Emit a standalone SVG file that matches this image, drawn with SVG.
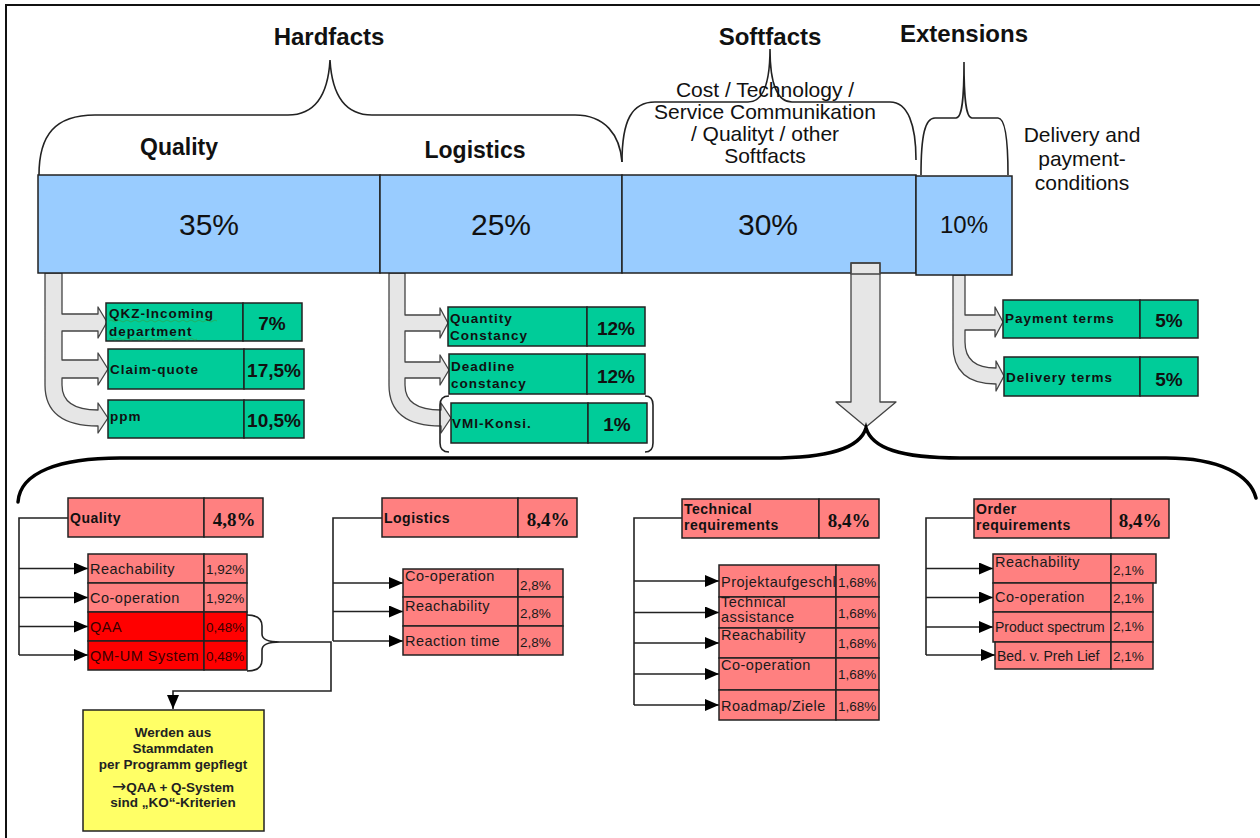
<svg xmlns="http://www.w3.org/2000/svg" width="1260" height="838" viewBox="0 0 1260 838">
  <style>
    .blue{fill:#99CCFF;stroke:#222;stroke-width:1.5}
    .grn{fill:#00CC99;stroke:#222;stroke-width:1.5}
    .pink{fill:#FF8080;stroke:#222;stroke-width:1.5}
    .red{fill:#FF0000;stroke:#222;stroke-width:1.5}
    .yel{fill:#FFFF66;stroke:#222;stroke-width:1.5}
    .hollow{fill:#E6E6E6;stroke:#444;stroke-width:1.3;stroke-linejoin:round}
    .brace{fill:none;stroke:#222;stroke-width:1.6}
    .bigbrace{fill:none;stroke:#000;stroke-width:3.5;stroke-linecap:round}
    .conn{fill:none;stroke:#222;stroke-width:1.6}
    .arr{fill:none;stroke:#222;stroke-width:1.6;marker-end:url(#tri)}
    text{font-family:"Liberation Sans",Arial,sans-serif;fill:#111}
    .h1{font-size:24px;font-weight:bold;text-anchor:middle}
    .h2{font-size:23px;font-weight:bold;text-anchor:middle}
    .note{font-size:21px;text-anchor:middle}
    .big{font-size:30px;text-anchor:middle}
    .mid{font-size:24px;text-anchor:middle}
    .gl{font-size:13.5px;font-weight:bold;letter-spacing:1px}
    .gp{font-size:19px;font-weight:bold;text-anchor:middle}
    .hl{font-size:14px;font-weight:bold;letter-spacing:.5px}
    .hp{font-family:"Liberation Serif","Times New Roman",serif;font-size:19px;font-weight:bold;text-anchor:middle}
    .sl{font-size:14.5px;letter-spacing:.5px;fill:#1a1a1a}
    .tight{font-size:14px;letter-spacing:0}
    .sp{font-size:13.5px;fill:#1a1a1a}
    .dk{fill:#3a0000}
    .yt{font-size:13.5px;font-weight:bold;text-anchor:middle;fill:#222}
  </style>
  <defs>
    <marker id="tri" viewBox="0 0 14 12" refX="14" refY="6" markerWidth="14" markerHeight="12" markerUnits="userSpaceOnUse" orient="auto">
      <path d="M0,0 L14,6 L0,12 Z" fill="#000"/>
    </marker>
  </defs>

  <rect width="1260" height="838" fill="#fff"/>
  <!-- outer frame -->
  <path d="M6,838 L6,5 L1260,5" fill="none" stroke="#111" stroke-width="2"/>

  <!-- category headings and braces -->
  <g id="braces">
    <text class="h1" x="329" y="45">Hardfacts</text>
    <path class="brace" d="M39,175 C39,135 55,115 95,115 L288,115 C315,115 328,95 330,60 C332,95 345,115 372,115 L575,115 C605,115 620,135 622,162"/>
    <text class="h1" x="770" y="45">Softfacts</text>
    <path class="brace" d="M622,162 C622,120 632,102 655,102 L748,102 C762,102 770,85 770,49 C770,85 778,102 792,102 L890,102 C908,102 916,125 916,160"/>
    <text class="h1" x="964" y="42">Extensions</text>
    <path class="brace" d="M921,175 C921,135 925,118 935,118 L956,118 C962,118 964,100 964,62 C964,100 966,118 972,118 L998,118 C1004,118 1008,135 1008,175"/>
  </g>

  <g id="sub-headings">
    <text class="h2" x="179" y="155">Quality</text>
    <text class="h2" x="475" y="158">Logistics</text>
    <text class="note" x="765" y="97">Cost / Technology /</text>
    <text class="note" x="765" y="119">Service Communikation</text>
    <text class="note" x="765" y="141">/ Qualityt / other</text>
    <text class="note" x="765" y="163">Softfacts</text>
    <text class="note" x="1082" y="142">Delivery and</text>
    <text class="note" x="1082" y="166">payment-</text>
    <text class="note" x="1082" y="190">conditions</text>
  </g>

  <!-- connectors: hollow branch arrows, main split arrow, lower tree lines -->
  <g id="connectors">
    <path class="hollow" d="M45,273 L62,273 L62,314 L98,314 L98,307 L107,322 L98,338 L98,331 L62,331 L62,360 L98,360 L98,353 L108,369 L98,385 L98,378 L62,378 L62,385 Q62,410 98,410 L98,403 L108,418 L98,433 L98,426 Q45,426 45,385 Z"/>
    <path class="hollow" d="M389,273 L405,273 L405,315 L440,315 L440,308 L448,323 L440,338 L440,331 L405,331 L405,362 L440,362 L440,355 L449,370 L440,385 L440,378 L405,378 L405,385 Q405,410 441,410 L441,403 L451,418 L441,433 L441,426 Q389,426 389,385 Z"/>
    <path class="hollow" d="M953,275 L965,275 L965,315 L995,315 L995,307 L1003,322 L995,337 L995,330 L965,330 L965,342 Q965,368 996,368 L996,361 L1004,376 L996,391 L996,384 Q953,384 953,345 Z"/>
    <path class="hollow" d="M851,263 L880,263 L880,402 L896,402 L866,427 L836,402 L851,402 Z"/>
    <path class="bigbrace" d="M18,502 C20,472 60,458 120,458 L770,458 C830,458 860,448 866,428 C872,448 900,458 960,458 L1166,458 C1220,458 1250,475 1256,498"/>

    <!-- quality tree -->
    <path class="conn" d="M68,518 L19,518 L19,655"/>
    <line class="arr" x1="19" y1="568.5" x2="88" y2="568.5"/>
    <line class="arr" x1="19" y1="597.5" x2="88" y2="597.5"/>
    <line class="arr" x1="19" y1="626.5" x2="88" y2="626.5"/>
    <line class="arr" x1="19" y1="655" x2="88" y2="655"/>
    <path class="brace" d="M247,615 Q262,615 262,626 L262,634 Q262,642 280,642 Q262,642 262,650 L262,660 Q262,671 247,671"/>
    <path class="arr" d="M280,642 L331,642 L331,691 L173,691 L173,709"/>

    <!-- logistics tree -->
    <path class="conn" d="M382,518 L333,518 L333,641"/>
    <line class="arr" x1="333" y1="583" x2="403" y2="583"/>
    <line class="arr" x1="333" y1="611.5" x2="403" y2="611.5"/>
    <line class="arr" x1="333" y1="641" x2="403" y2="641"/>

    <!-- technical tree -->
    <path class="conn" d="M682,518 L634,518 L634,705"/>
    <line class="arr" x1="634" y1="581" x2="719" y2="581"/>
    <line class="arr" x1="634" y1="612.5" x2="719" y2="612.5"/>
    <line class="arr" x1="634" y1="643" x2="719" y2="643"/>
    <line class="arr" x1="634" y1="674" x2="719" y2="674"/>
    <line class="arr" x1="634" y1="705" x2="719" y2="705"/>

    <!-- order tree -->
    <path class="conn" d="M974,518 L926,518 L926,655"/>
    <line class="arr" x1="926" y1="568.5" x2="993" y2="568.5"/>
    <line class="arr" x1="926" y1="597.5" x2="993" y2="597.5"/>
    <line class="arr" x1="926" y1="627" x2="993" y2="627"/>
    <line class="arr" x1="926" y1="655" x2="995" y2="655"/>
  </g>

  <!-- weighting bar -->
  <g id="bar-quality"><rect class="blue" x="38" y="175" width="342" height="98"/><text class="big" x="209" y="235">35%</text></g>
  <g id="bar-logistics"><rect class="blue" x="380" y="175" width="242" height="98"/><text class="big" x="501" y="235">25%</text></g>
  <g id="bar-softfacts"><rect class="blue" x="622" y="175" width="294" height="98"/><text class="big" x="768" y="235">30%</text></g>
  <g id="bar-extensions"><rect class="blue" x="916" y="176" width="96" height="99"/><text class="mid" x="964" y="233">10%</text></g>
  <!-- split arrow shaft overlaps the bar -->
  <path class="hollow" d="M851,263 L880,263 L880,274 L851,274 Z" stroke="none"/>
  <path d="M851,273 L851,263 L880,263 L880,273" fill="none" stroke="#444" stroke-width="1.3"/>

  <!-- hardfacts criteria -->
  <g id="qkz">
    <rect class="grn" x="106" y="303" width="137" height="38"/>
    <text class="gl" x="109" y="318">QKZ-Incoming</text>
    <text class="gl" x="109" y="336">department</text>
    <path d="M109,321 q2,-2 4,0 t4,0 t4,0 t4,0 t4,0 t4,0 t4,0 t4,0 t4,0 t4,0 t4,0 t4,0 t4,0 t4,0 t4,0 t4,0 t4,0 t4,0 t4,0 t4,0 t4,0 t4,0 t4,0 t4,0 t4,0 t4,0 t4,0 M109,339 q2,-2 4,0 t4,0 t4,0 t4,0 t4,0 t4,0 t4,0 t4,0 t4,0 t4,0 t4,0 t4,0 t4,0 t4,0 t4,0 t4,0 t4,0 t4,0 t4,0 t4,0 t4,0 t4,0" fill="none" stroke="#3a9a3a" stroke-width=".8" opacity=".7"/>
    <rect class="grn" x="243" y="303" width="59" height="38"/>
    <text class="gp" x="272" y="330">7%</text>
  </g>
  <g id="claim-quote">
    <rect class="grn" x="108" y="349" width="136" height="40"/>
    <text class="gl" x="110" y="374">Claim-quote</text>
    <rect class="grn" x="244" y="349" width="60" height="40"/>
    <text class="gp" x="274" y="377">17,5%</text>
  </g>
  <g id="ppm">
    <rect class="grn" x="108" y="400" width="136" height="38"/>
    <text class="gl" x="110" y="421">ppm</text>
    <rect class="grn" x="244" y="400" width="60" height="38"/>
    <text class="gp" x="274" y="427">10,5%</text>
  </g>
  <g id="quantity-constancy">
    <rect class="grn" x="448" y="307" width="139" height="39"/>
    <text class="gl" x="450" y="323">Quantity</text>
    <text class="gl" x="450" y="340">Constancy</text>
    <rect class="grn" x="587" y="307" width="58" height="39"/>
    <text class="gp" x="616" y="335">12%</text>
  </g>
  <g id="deadline-constancy">
    <rect class="grn" x="449" y="354" width="138" height="40"/>
    <text class="gl" x="451" y="371">Deadline</text>
    <text class="gl" x="451" y="388">constancy</text>
    <rect class="grn" x="587" y="354" width="58" height="40"/>
    <text class="gp" x="616" y="383">12%</text>
  </g>
  <g id="vmi-konsi">
    <path class="brace" stroke="#555" d="M449,396 Q440,396 440,405 L440,443 Q440,452 449,452 M645,396 Q653,396 653,405 L653,443 Q653,452 645,452"/>
    <rect class="grn" x="451" y="403" width="137" height="40"/>
    <text class="gl" x="452" y="428">VMI-Konsi.</text>
    <rect class="grn" x="588" y="403" width="59" height="40"/>
    <text class="gp" x="617" y="431">1%</text>
  </g>

  <!-- extension criteria -->
  <g id="payment-terms">
    <rect class="grn" x="1003" y="300" width="137" height="38"/>
    <text class="gl" x="1005" y="323">Payment terms</text>
    <rect class="grn" x="1140" y="300" width="58" height="38"/>
    <text class="gp" x="1169" y="327">5%</text>
  </g>
  <g id="delivery-terms">
    <rect class="grn" x="1004" y="357" width="136" height="39"/>
    <text class="gl" x="1006" y="382">Delivery terms</text>
    <rect class="grn" x="1140" y="357" width="58" height="39"/>
    <text class="gp" x="1169" y="386">5%</text>
  </g>

  <!-- softfacts: quality -->
  <g id="sf-quality">
    <rect class="pink" x="68" y="498" width="136" height="39"/>
    <text class="hl" x="70" y="523">Quality</text>
    <rect class="pink" x="204" y="498" width="59" height="39"/>
    <text class="hp" x="234" y="526">4,8%</text>
  </g>
  <g id="sf-quality-items">
    <rect class="pink" x="88" y="554" width="116" height="29"/>
    <text class="sl" x="90" y="574">Reachability</text>
    <rect class="pink" x="204" y="554" width="43" height="29"/>
    <text class="sp" x="206" y="574">1,92%</text>
    <rect class="pink" x="88" y="583" width="116" height="29"/>
    <text class="sl" x="90" y="603">Co-operation</text>
    <rect class="pink" x="204" y="583" width="43" height="29"/>
    <text class="sp" x="206" y="603">1,92%</text>
    <rect class="red" x="88" y="612" width="116" height="29"/>
    <text class="sl dk" x="90" y="632">QAA</text>
    <rect class="red" x="204" y="612" width="43" height="29"/>
    <text class="sp dk" x="206" y="632">0,48%</text>
    <rect class="red" x="88" y="641" width="116" height="29"/>
    <text class="sl dk" x="90" y="661">QM-UM System</text>
    <rect class="red" x="204" y="641" width="43" height="29"/>
    <text class="sp dk" x="206" y="661">0,48%</text>
  </g>
  <g id="master-data-note">
    <rect class="yel" x="83" y="710" width="181" height="121"/>
    <text class="yt" x="173" y="737">Werden aus</text>
    <text class="yt" x="173" y="753">Stammdaten</text>
    <text class="yt" x="173" y="769">per Programm gepflegt</text>
    <text class="yt" x="173" y="792"><tspan font-family="DejaVu Sans,sans-serif" font-size="17" font-weight="normal">→</tspan>QAA + Q-System</text>
    <text class="yt" x="173" y="807">sind „KO“-Kriterien</text>
  </g>

  <!-- softfacts: logistics -->
  <g id="sf-logistics">
    <rect class="pink" x="382" y="498" width="136" height="39"/>
    <text class="hl" x="384" y="523">Logistics</text>
    <rect class="pink" x="518" y="498" width="59" height="39"/>
    <text class="hp" x="548" y="526">8,4%</text>
  </g>
  <g id="sf-logistics-items">
    <rect class="pink" x="403" y="569" width="115" height="28"/>
    <text class="sl" x="405" y="581">Co-operation</text>
    <rect class="pink" x="518" y="569" width="45" height="28"/>
    <text class="sp" x="520" y="590">2,8%</text>
    <rect class="pink" x="403" y="597" width="115" height="29"/>
    <text class="sl" x="405" y="611">Reachability</text>
    <rect class="pink" x="518" y="597" width="45" height="29"/>
    <text class="sp" x="520" y="618">2,8%</text>
    <rect class="pink" x="403" y="626" width="115" height="29"/>
    <text class="sl" x="405" y="646">Reaction time</text>
    <rect class="pink" x="518" y="626" width="45" height="29"/>
    <text class="sp" x="520" y="647">2,8%</text>
  </g>

  <!-- softfacts: technical requirements -->
  <g id="sf-technical">
    <rect class="pink" x="682" y="499" width="137" height="39"/>
    <text class="hl" x="684" y="514">Technical</text>
    <text class="hl" x="684" y="530">requirements</text>
    <rect class="pink" x="819" y="499" width="60" height="39"/>
    <text class="hp" x="849" y="527">8,4%</text>
  </g>
  <g id="sf-technical-items">
    <rect class="pink" x="719" y="565" width="117" height="32"/>
    <text class="sl" x="721" y="587">Projektaufgeschl</text>
    <rect class="pink" x="836" y="565" width="43" height="32"/>
    <text class="sp" x="838" y="587">1,68%</text>
    <rect class="pink" x="719" y="597" width="117" height="31"/>
    <text class="sl" x="721" y="607">Technical</text>
    <text class="sl" x="721" y="622">assistance</text>
    <rect class="pink" x="836" y="597" width="43" height="31"/>
    <text class="sp" x="838" y="618">1,68%</text>
    <rect class="pink" x="719" y="628" width="117" height="30"/>
    <text class="sl" x="721" y="640">Reachability</text>
    <rect class="pink" x="836" y="628" width="43" height="30"/>
    <text class="sp" x="838" y="648">1,68%</text>
    <rect class="pink" x="719" y="658" width="117" height="32"/>
    <text class="sl" x="721" y="670">Co-operation</text>
    <rect class="pink" x="836" y="658" width="43" height="32"/>
    <text class="sp" x="838" y="679">1,68%</text>
    <rect class="pink" x="719" y="690" width="117" height="30"/>
    <text class="sl" x="721" y="711">Roadmap/Ziele</text>
    <rect class="pink" x="836" y="690" width="43" height="30"/>
    <text class="sp" x="838" y="711">1,68%</text>
  </g>

  <!-- softfacts: order requirements -->
  <g id="sf-order">
    <rect class="pink" x="974" y="499" width="137" height="39"/>
    <text class="hl" x="976" y="514">Order</text>
    <text class="hl" x="976" y="530">requirements</text>
    <rect class="pink" x="1111" y="499" width="58" height="39"/>
    <text class="hp" x="1140" y="527">8,4%</text>
  </g>
  <g id="sf-order-items">
    <rect class="pink" x="993" y="554" width="118" height="29"/>
    <text class="sl" x="995" y="567">Reachability</text>
    <rect class="pink" x="1111" y="554" width="45" height="29"/>
    <text class="sp" x="1113" y="575">2,1%</text>
    <rect class="pink" x="993" y="583" width="118" height="29"/>
    <text class="sl" x="995" y="602">Co-operation</text>
    <rect class="pink" x="1111" y="583" width="42" height="29"/>
    <text class="sp" x="1113" y="603">2,1%</text>
    <rect class="pink" x="993" y="612" width="118" height="30"/>
    <text class="sl tight" x="995" y="632">Product spectrum</text>
    <rect class="pink" x="1111" y="612" width="42" height="30"/>
    <text class="sp" x="1113" y="631">2,1%</text>
    <rect class="pink" x="995" y="642" width="116" height="27"/>
    <text class="sl tight" x="997" y="661">Bed. v. Preh Lief</text>
    <rect class="pink" x="1111" y="642" width="42" height="27"/>
    <text class="sp" x="1113" y="661">2,1%</text>
  </g>
</svg>
